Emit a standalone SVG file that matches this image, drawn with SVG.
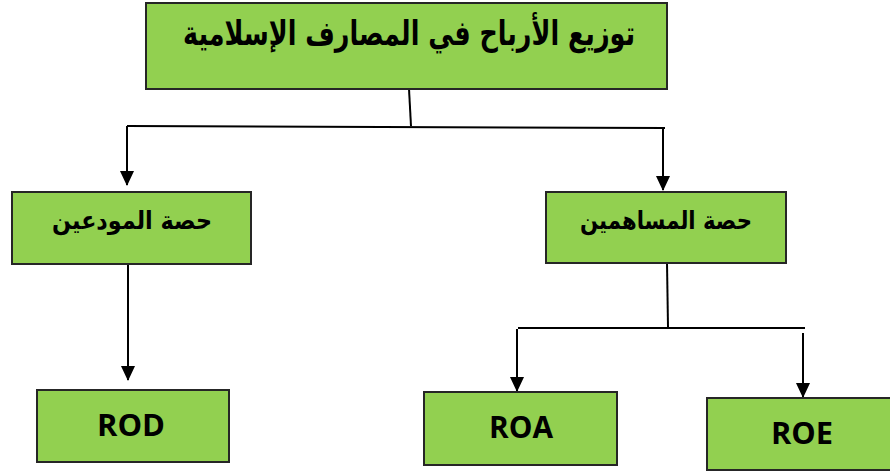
<svg xmlns="http://www.w3.org/2000/svg" width="890" height="473" viewBox="0 0 890 473">
<style>
.box{fill:#92D050;stroke:#262626;stroke-width:2}
.ar{font-family:"DejaVu Sans",sans-serif;font-weight:bold;fill:#000;text-anchor:middle}
.en{font-family:"Open Sans","Liberation Sans",sans-serif;font-weight:bold;fill:#000;text-anchor:middle;font-size:30px}
.ln{stroke:#000;stroke-width:2;fill:none}
</style>
<defs>
<marker id="arr" markerWidth="15" markerHeight="14" refX="14" refY="7" orient="auto" markerUnits="userSpaceOnUse">
<path d="M0,0 L15,7 L0,14 Z" fill="#000"/>
</marker>
</defs>
<g id="connectors">
<path class="ln" d="M409,89 L411,126"/>
<path class="ln" d="M127,126 L665,128"/>
<path class="ln" d="M127,126 L127,185" marker-end="url(#arr)"/>
<path class="ln" d="M663,128 L663,190" marker-end="url(#arr)"/>
<path class="ln" d="M128,264 L128,380" marker-end="url(#arr)"/>
<path class="ln" d="M667,263 L668,327"/>
<path class="ln" d="M518,328 L805,328"/>
<path class="ln" d="M517,329 L517,391" marker-end="url(#arr)"/>
<path class="ln" d="M803,333 L803,397" marker-end="url(#arr)"/>
</g>
<g id="node-top">
<rect class="box" x="146" y="3" width="521" height="86"/>
<text class="ar" x="409" y="45" font-size="34" direction="rtl" textLength="452" lengthAdjust="spacingAndGlyphs">توزيع الأرباح في المصارف الإسلامية</text>
</g>
<g id="node-depositors">
<rect class="box" x="12" y="192" width="239" height="72"/>
<text class="ar" x="132" y="229" font-size="25" direction="rtl" textLength="160" lengthAdjust="spacingAndGlyphs">حصة المودعين</text>
</g>
<g id="node-shareholders">
<rect class="box" x="546" y="192" width="240" height="71"/>
<text class="ar" x="666" y="229" font-size="25" direction="rtl" textLength="172" lengthAdjust="spacingAndGlyphs">حصة المساهمين</text>
</g>
<g id="node-rod">
<rect class="box" x="37" y="390" width="192" height="72"/>
<text class="en" x="131" y="436" textLength="68" lengthAdjust="spacingAndGlyphs">ROD</text>
</g>
<g id="node-roa">
<rect class="box" x="424" y="392" width="193" height="73"/>
<text class="en" x="521" y="438" textLength="64" lengthAdjust="spacingAndGlyphs">ROA</text>
</g>
<g id="node-roe">
<rect class="box" x="707" y="398" width="190" height="72"/>
<text class="en" x="802" y="444" textLength="62" lengthAdjust="spacingAndGlyphs">ROE</text>
</g>
</svg>
